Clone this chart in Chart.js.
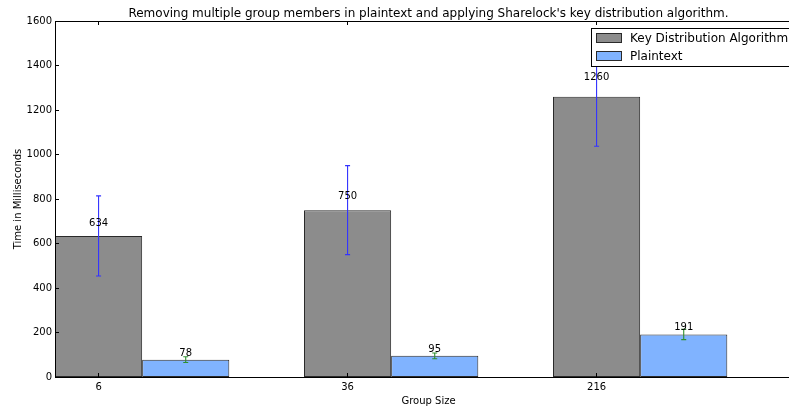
<!DOCTYPE html>
<html>
<head>
<meta charset="utf-8">
<style>
  html, body { margin: 0; padding: 0; overflow: hidden; background: #fff; }
  canvas { display: block; }
</style>
<script src="https://cdn.jsdelivr.net/npm/chart.js@4/dist/chart.umd.min.js"></script>
</head>
<body>
<canvas id="chart" width="857" height="411"></canvas>
<script>
// Group sizes (x tick labels) and measured times in milliseconds
const groupSizes = ['6', '36', '216'];
const keyDistMs = [634, 750, 1260];
const keyDistErr = [180, 200, 223];
const plaintextMs = [78, 95, 191];
const plaintextErr = [13, 13, 23];

// Each group sits at an integer x; every bar is BAR_W wide, grey first then blue
const BAR_W = 0.35;

function makeDataset(label, values, errors, fill, errColor) {
  return {
    label,
    data: values.map((v, i) => ({ x: i + BAR_W, y: v })),
    errors,
    errorColor: errColor,
    backgroundColor: fill,
    borderColor: '#2a2a2a',
    borderWidth: 1,
    borderSkipped: false,
    categoryPercentage: 2 * BAR_W,
    barPercentage: 1.0
  };
}

Chart.defaults.font.family = "'DejaVu Sans', sans-serif";
Chart.defaults.color = '#000';

const crisp = v => Math.floor(v) + 0.5;

// Vertical error bars with small caps
const errorBars = {
  id: 'errorBars',
  afterDatasetsDraw(chart) {
    const { ctx, scales: { y } } = chart;
    chart.data.datasets.forEach((ds, di) => {
      chart.getDatasetMeta(di).data.forEach((bar, i) => {
        const v = ds.data[i].y, e = ds.errors[i];
        const x = bar.x;
        const top = y.getPixelForValue(v + e);
        const bot = y.getPixelForValue(v - e);
        ctx.save();
        ctx.strokeStyle = ds.errorColor;
        ctx.lineWidth = 1.1;
        ctx.beginPath();
        ctx.moveTo(x, top); ctx.lineTo(x, bot);
        ctx.moveTo(x - 2.5, top); ctx.lineTo(x + 2.5, top);
        ctx.moveTo(x - 2.5, bot); ctx.lineTo(x + 2.5, bot);
        ctx.stroke();
        ctx.restore();
      });
    });
  }
};

// Value printed just above each bar (at 1.05 x its height)
const valueLabels = {
  id: 'valueLabels',
  afterDatasetsDraw(chart) {
    const { ctx, scales: { y } } = chart;
    ctx.save();
    ctx.font = "10px 'DejaVu Sans'";
    ctx.fillStyle = '#000';
    ctx.textAlign = 'center';
    ctx.textBaseline = 'bottom';
    chart.data.datasets.forEach((ds, di) => {
      chart.getDatasetMeta(di).data.forEach((bar, i) => {
        const v = ds.data[i].y;
        ctx.fillText(String(v), bar.x, y.getPixelForValue(1.05 * v));
      });
    });
    ctx.restore();
  }
};

// Full box around the plot with inward-pointing tick marks on all sides
const axesFrame = {
  id: 'axesFrame',
  afterDatasetsDraw(chart) {
    const { ctx, chartArea: a, scales: { x, y } } = chart;
    const len = 4;
    ctx.save();
    ctx.strokeStyle = '#000';
    ctx.lineWidth = 1;
    ctx.strokeRect(a.left + 0.5, a.top + 0.5, a.right - a.left, a.bottom - a.top);
    ctx.beginPath();
    y.ticks.forEach(t => {
      const py = crisp(y.getPixelForValue(t.value));
      ctx.moveTo(a.left, py); ctx.lineTo(a.left + len, py);
      ctx.moveTo(a.right, py); ctx.lineTo(a.right - len, py);
    });
    x.ticks.forEach(t => {
      const px = crisp(x.getPixelForValue(t.value));
      ctx.moveTo(px, a.bottom); ctx.lineTo(px, a.bottom - len);
      ctx.moveTo(px, a.top); ctx.lineTo(px, a.top + len);
    });
    ctx.stroke();
    ctx.restore();
  }
};

// Boxed legend in the upper-right corner of the plot
const boxLegend = {
  id: 'boxLegend',
  afterDatasetsDraw(chart) {
    const { ctx, chartArea: a } = chart;
    const left = a.right - 211, top = a.top + 7, w = 205, h = 38;
    ctx.save();
    ctx.fillStyle = '#fff';
    ctx.fillRect(left, top, w, h);
    ctx.strokeStyle = '#000';
    ctx.lineWidth = 1;
    ctx.strokeRect(crisp(left), crisp(top), w, h);
    ctx.font = "12px 'DejaVu Sans'";
    ctx.textAlign = 'left';
    ctx.textBaseline = 'middle';
    chart.data.datasets.forEach((ds, i) => {
      const cy = top + 10 + i * 18;
      ctx.fillStyle = ds.backgroundColor;
      ctx.fillRect(left + 5, cy - 4.5, 25, 9);
      ctx.strokeStyle = '#2a2a2a';
      ctx.strokeRect(crisp(left + 5), crisp(cy - 4.5), 25, 9);
      ctx.fillStyle = '#000';
      ctx.fillText(ds.label, left + 39, cy + 0.5);
    });
    ctx.restore();
  }
};

new Chart(document.getElementById('chart'), {
  type: 'bar',
  data: {
    datasets: [
      makeDataset('Key Distribution Algorithm', keyDistMs, keyDistErr, '#8c8c8c', '#3333ff'),
      makeDataset('Plaintext', plaintextMs, plaintextErr, '#80b3ff', '#2f8f2f')
    ]
  },
  options: {
    responsive: false,
    animation: false,
    devicePixelRatio: 1,
    layout: { padding: { left: 0, right: 55, top: 0, bottom: 0 } },
    scales: {
      x: {
        type: 'linear',
        min: 0,
        max: 3,
        offset: false,
        grid: { display: false, drawTicks: false, offset: false },
        border: { display: false },
        afterBuildTicks: s => { s.ticks = groupSizes.map((_, i) => ({ value: i + BAR_W / 2 })); },
        ticks: {
          autoSkip: false,
          maxRotation: 0,
          padding: 4,
          font: { size: 10 },
          color: '#000',
          callback: (v, i) => groupSizes[i]
        },
        title: { display: true, text: 'Group Size', font: { size: 10 }, color: '#000', padding: { top: 0, bottom: 4 } },
        afterFit: s => { s.height = 34; }
      },
      y: {
        min: 0,
        max: 1600,
        grid: { display: false, drawTicks: false },
        border: { display: false },
        ticks: { stepSize: 200, padding: 3, font: { size: 10 }, color: '#000', callback: v => String(v) },
        title: { display: true, text: 'Time in Milliseconds', font: { size: 10 }, color: '#000', padding: { top: 12, bottom: 0 } },
        afterFit: s => { s.width = 55; }
      }
    },
    plugins: {
      legend: { display: false },
      tooltip: { enabled: false },
      title: {
        display: true,
        fullSize: false,
        text: "Removing multiple group members in plaintext and applying Sharelock's key distribution algorithm.",
        font: { size: 12, weight: 'normal', lineHeight: 1.1 },
        color: '#000',
        padding: { top: 7, bottom: 0.8 }
      }
    }
  },
  plugins: [errorBars, valueLabels, axesFrame, boxLegend]
});
</script>
</body>
</html>
